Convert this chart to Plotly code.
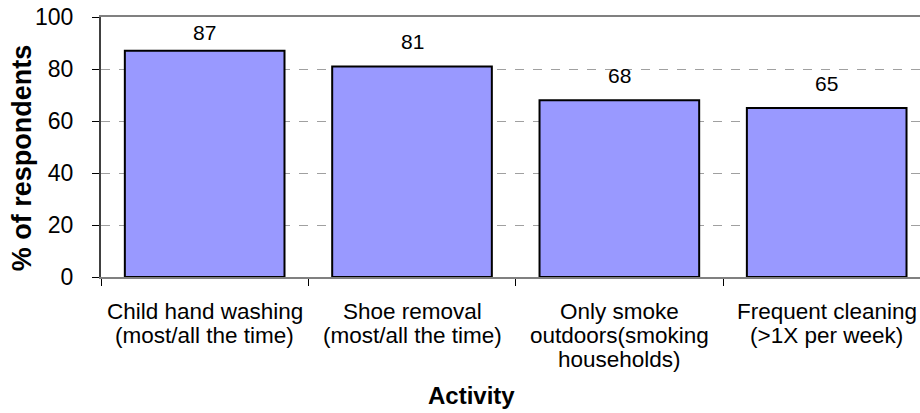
import plotly.graph_objects as go

categories = [
    ["Child hand washing", "(most/all the time)"],
    ["Shoe removal", "(most/all the time)"],
    ["Only smoke", "outdoors(smoking", "households)"],
    ["Frequent cleaning", "(>1X per week)"],
]
values = [87, 81, 68, 65]
y_ticks = [0, 20, 40, 60, 80, 100]
x_title = "Activity"
y_title = "% of respondents"

FONT = "Liberation Sans, Arial, sans-serif"
LINE_PITCH = 24

cat_keys = [" ".join(lines) for lines in categories]

fig = go.Figure()
fig.add_trace(go.Bar(
    x=cat_keys,
    y=values,
    width=0.77,
    marker=dict(color="#9999FF", line=dict(color="#000000", width=2)),
    hoverinfo="skip",
))

# data labels (kept inside the plot area at the top, as in the reference)
for key, v in zip(cat_keys, values):
    fig.add_annotation(
        x=key, y=min(v + 9.6, 94), text=str(v), showarrow=False,
        xref="x", yref="y", yanchor="middle",
        font=dict(family=FONT, size=21, color="#000000"),
    )

# category labels, one annotation per line for tight line spacing
for key, lines in zip(cat_keys, categories):
    for j, line in enumerate(lines):
        fig.add_annotation(
            x=key, y=0, xref="x", yref="paper", text=line, showarrow=False,
            xanchor="center", yanchor="middle", yshift=-(34 + j * LINE_PITCH),
            font=dict(family=FONT, size=22.5, color="#000000"),
        )

fig.add_annotation(
    x=0.452, y=0, xref="paper", yref="paper", text="<b>%s</b>" % x_title,
    showarrow=False, xanchor="center", yanchor="middle", yshift=-118,
    font=dict(family=FONT, size=24, color="#000000"),
)
fig.add_annotation(
    x=-0.0965, y=0.46, xref="paper", yref="paper", text="<b>%s</b>" % y_title,
    showarrow=False, xanchor="center", yanchor="middle", textangle=-90,
    font=dict(family=FONT, size=27, color="#000000"),
)

fig.update_layout(
    width=920, height=413,
    margin=dict(l=101, r=0, t=17, b=136, autoexpand=False),
    paper_bgcolor="white", plot_bgcolor="white",
    showlegend=False,
    xaxis=dict(
        type="category",
        categoryorder="array", categoryarray=cat_keys,
        range=[-0.5, 3.45],
        showticklabels=False,
        tickson="boundaries",
        ticks="outside", ticklen=7, tickcolor="#000000", tickwidth=1,
        showline=True, linecolor="#808080", linewidth=2, mirror=True,
        showgrid=False, zeroline=False, automargin=False,
    ),
    yaxis=dict(
        range=[0, 100],
        tickmode="array", tickvals=y_ticks,
        ticks="outside", ticklen=7, tickcolor="#000000", tickwidth=1,
        showline=True, linecolor="#404040", linewidth=2,
        showgrid=True, gridcolor="#A0A0A0", gridwidth=1, griddash="dash",
        zeroline=False, automargin=False,
        ticklabelstandoff=14,
        tickfont=dict(family=FONT, size=23, color="#000000"),
    ),
)

fig.write_html(
    "out.html",
    config={"displayModeBar": False},
    post_script="document.body.style.margin='0px';document.body.style.overflow='hidden';",
)
